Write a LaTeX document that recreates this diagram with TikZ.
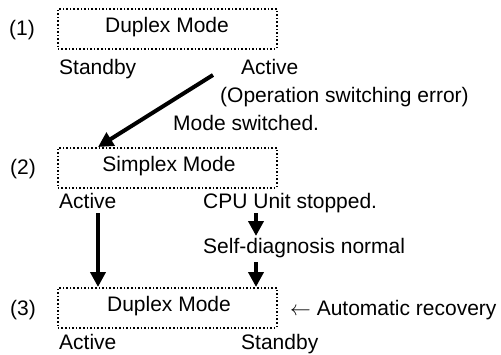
\documentclass[tikz,border=0pt]{standalone}
\usepackage{fontspec}
\setmainfont{Liberation Sans}
\usetikzlibrary{arrows.meta}
\begin{document}
\begin{tikzpicture}[x=1pt,y=-1pt,
  every node/.style={font=\fontsize{21}{25}\selectfont, inner sep=0pt},
  modebox/.style={draw, dotted, line width=1.6pt, minimum width=219pt, minimum height=40pt, anchor=north west},
  lbl/.style={anchor=base west},
  bigarrow/.style={line width=4pt, -{Triangle[width=15pt,length=15pt]}}]
\useasboundingbox (0,0) rectangle (501,354);
% row 1
\node[modebox] (b1) at (57,8) {};
\node (b1t) at (167,27) {Duplex Mode};
\node[lbl] (n1) at (9,35) {(1)};
\node[lbl] (s1) at (59,74) {Standby};
\node[lbl] (a1) at (241,74) {Active};
\node[lbl] (e1) at (220,102) {(Operation switching error)};
\node[lbl] (m1) at (173,130) {Mode switched.};
% row 2
\node[modebox] (b2) at (57,147) {};
\node (b2t) at (169,166) {Simplex Mode};
\node[lbl] (n2) at (10,174) {(2)};
\node[lbl] (a2) at (59,208) {Active};
\node[lbl] (c2) at (203,208) {CPU Unit stopped.};
\node[lbl] (d2) at (203,253) {Self-diagnosis normal};
% row 3
\node[modebox] (b3) at (57,287) {};
\node (b3t) at (169,306) {Duplex Mode};
\node[lbl] (n3) at (10,315) {(3)};
\node[lbl] (r3) at (290,315) {$\leftarrow$ Automatic recovery};
\node[lbl] (a3) at (59,349) {Active};
\node[lbl] (s3) at (241,349) {Standby};
% connector end points
\coordinate (p1) at (213,75);
\coordinate (p2) at (98,147);
\coordinate (q1) at (98,213);
\coordinate (q2) at (98,287);
\coordinate (r1) at (256,213);
\coordinate (r2) at (256,236);
\coordinate (t1) at (256,262);
\coordinate (t2) at (256,287);
\draw[bigarrow] (p1) -- (p2);
\draw[bigarrow] (q1) -- (q2);
\draw[bigarrow] (r1) -- (r2);
\draw[bigarrow] (t1) -- (t2);
\end{tikzpicture}
\end{document}
